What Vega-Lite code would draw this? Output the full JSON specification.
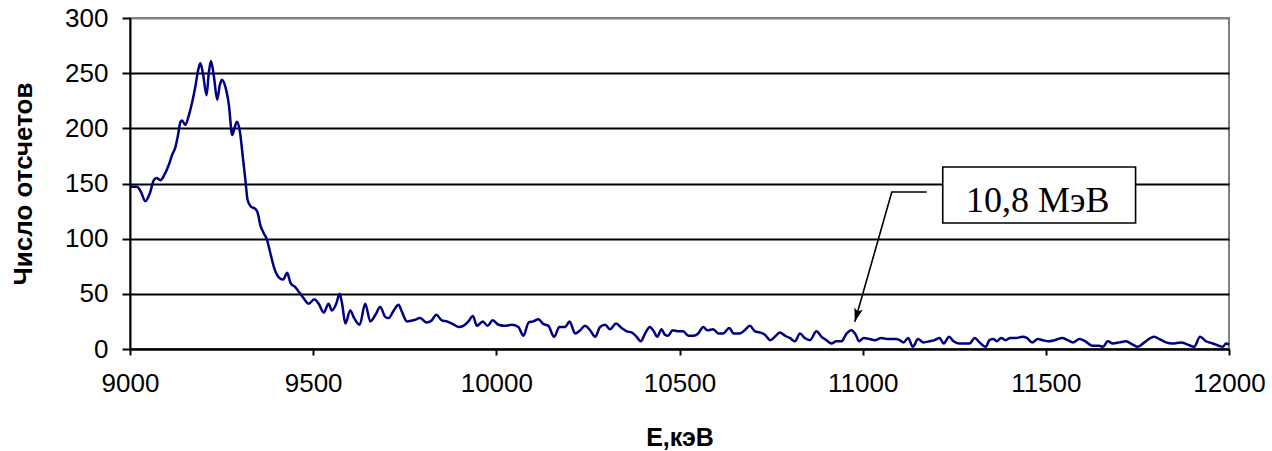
{
  "$schema": "https://vega.github.io/schema/vega-lite/v6.json",
  "autosize": "none",
  "width": 1099,
  "height": 331,
  "padding": {"left": 130, "top": 18, "right": 43, "bottom": 102},
  "background": "white",
  "config": {
    "view": {"stroke": "#808080", "strokeWidth": 2},
    "font": "Liberation Sans"
  },
  "datasets": {
    "spec": [
      {"E": 9000, "N": 147}, {"E": 9019, "N": 147}, {"E": 9029, "N": 143}, {"E": 9042, "N": 134},
      {"E": 9054, "N": 141}, {"E": 9065, "N": 153}, {"E": 9072, "N": 155}, {"E": 9083, "N": 153},
      {"E": 9094, "N": 158}, {"E": 9106, "N": 167}, {"E": 9115, "N": 176}, {"E": 9124, "N": 183},
      {"E": 9130, "N": 192}, {"E": 9138, "N": 206}, {"E": 9142, "N": 207}, {"E": 9151, "N": 203},
      {"E": 9160, "N": 211}, {"E": 9170, "N": 224}, {"E": 9179, "N": 239}, {"E": 9185, "N": 251},
      {"E": 9192, "N": 259}, {"E": 9199, "N": 250}, {"E": 9209, "N": 230}, {"E": 9215, "N": 250},
      {"E": 9221, "N": 261}, {"E": 9229, "N": 247}, {"E": 9238, "N": 226}, {"E": 9245, "N": 239},
      {"E": 9251, "N": 244}, {"E": 9260, "N": 238}, {"E": 9270, "N": 221}, {"E": 9279, "N": 194},
      {"E": 9285, "N": 200}, {"E": 9292, "N": 206}, {"E": 9300, "N": 197}, {"E": 9308, "N": 174},
      {"E": 9315, "N": 153}, {"E": 9321, "N": 135}, {"E": 9330, "N": 129}, {"E": 9342, "N": 127},
      {"E": 9348, "N": 124}, {"E": 9356, "N": 112}, {"E": 9365, "N": 105}, {"E": 9374, "N": 99},
      {"E": 9383, "N": 87}, {"E": 9394, "N": 73}, {"E": 9406, "N": 65}, {"E": 9418, "N": 63},
      {"E": 9429, "N": 69}, {"E": 9438, "N": 60}, {"E": 9451, "N": 56}, {"E": 9463, "N": 51},
      {"E": 9474, "N": 46}, {"E": 9488, "N": 41}, {"E": 9503, "N": 45}, {"E": 9515, "N": 41},
      {"E": 9529, "N": 33}, {"E": 9542, "N": 41}, {"E": 9551, "N": 35}, {"E": 9563, "N": 41},
      {"E": 9572, "N": 50}, {"E": 9579, "N": 41}, {"E": 9588, "N": 23}, {"E": 9601, "N": 35},
      {"E": 9612, "N": 28}, {"E": 9627, "N": 22}, {"E": 9642, "N": 41}, {"E": 9656, "N": 25},
      {"E": 9670, "N": 31}, {"E": 9683, "N": 38}, {"E": 9697, "N": 29}, {"E": 9706, "N": 28},
      {"E": 9720, "N": 35}, {"E": 9733, "N": 40}, {"E": 9742, "N": 34}, {"E": 9756, "N": 25},
      {"E": 9774, "N": 26}, {"E": 9792, "N": 28}, {"E": 9810, "N": 24}, {"E": 9824, "N": 26},
      {"E": 9836, "N": 31}, {"E": 9851, "N": 26}, {"E": 9865, "N": 25}, {"E": 9879, "N": 23},
      {"E": 9897, "N": 20}, {"E": 9910, "N": 21}, {"E": 9924, "N": 25}, {"E": 9936, "N": 30},
      {"E": 9947, "N": 21}, {"E": 9963, "N": 25}, {"E": 9976, "N": 21}, {"E": 9990, "N": 26},
      {"E": 10006, "N": 22}, {"E": 10024, "N": 21}, {"E": 10042, "N": 22}, {"E": 10060, "N": 20},
      {"E": 10074, "N": 12}, {"E": 10088, "N": 24}, {"E": 10101, "N": 25}, {"E": 10115, "N": 27},
      {"E": 10127, "N": 23}, {"E": 10142, "N": 21}, {"E": 10158, "N": 11}, {"E": 10172, "N": 20},
      {"E": 10188, "N": 20}, {"E": 10200, "N": 25}, {"E": 10215, "N": 14}, {"E": 10229, "N": 17},
      {"E": 10242, "N": 21}, {"E": 10256, "N": 17}, {"E": 10270, "N": 11}, {"E": 10283, "N": 20},
      {"E": 10297, "N": 22}, {"E": 10310, "N": 18}, {"E": 10327, "N": 23}, {"E": 10342, "N": 19},
      {"E": 10356, "N": 16}, {"E": 10369, "N": 15}, {"E": 10383, "N": 11}, {"E": 10394, "N": 7},
      {"E": 10406, "N": 14}, {"E": 10419, "N": 20}, {"E": 10430, "N": 16}, {"E": 10439, "N": 11},
      {"E": 10451, "N": 18}, {"E": 10460, "N": 13}, {"E": 10469, "N": 12}, {"E": 10481, "N": 17},
      {"E": 10497, "N": 16}, {"E": 10510, "N": 16}, {"E": 10524, "N": 12}, {"E": 10538, "N": 12},
      {"E": 10551, "N": 14}, {"E": 10565, "N": 20}, {"E": 10576, "N": 17}, {"E": 10592, "N": 18},
      {"E": 10606, "N": 14}, {"E": 10619, "N": 14}, {"E": 10636, "N": 19}, {"E": 10648, "N": 14},
      {"E": 10665, "N": 14}, {"E": 10678, "N": 17}, {"E": 10692, "N": 21}, {"E": 10706, "N": 16},
      {"E": 10719, "N": 15}, {"E": 10733, "N": 13}, {"E": 10748, "N": 8}, {"E": 10760, "N": 11},
      {"E": 10774, "N": 15}, {"E": 10788, "N": 12}, {"E": 10801, "N": 10}, {"E": 10815, "N": 7},
      {"E": 10829, "N": 14}, {"E": 10842, "N": 10}, {"E": 10856, "N": 8}, {"E": 10874, "N": 16},
      {"E": 10888, "N": 11}, {"E": 10901, "N": 8}, {"E": 10915, "N": 5}, {"E": 10928, "N": 7},
      {"E": 10942, "N": 7}, {"E": 10956, "N": 14}, {"E": 10969, "N": 17}, {"E": 10981, "N": 13},
      {"E": 10990, "N": 7}, {"E": 11003, "N": 10}, {"E": 11019, "N": 9}, {"E": 11033, "N": 8},
      {"E": 11051, "N": 10}, {"E": 11069, "N": 9}, {"E": 11092, "N": 9}, {"E": 11101, "N": 8},
      {"E": 11112, "N": 6}, {"E": 11124, "N": 10}, {"E": 11137, "N": 2}, {"E": 11151, "N": 9},
      {"E": 11166, "N": 6}, {"E": 11183, "N": 7}, {"E": 11196, "N": 8}, {"E": 11210, "N": 10},
      {"E": 11221, "N": 5}, {"E": 11236, "N": 11}, {"E": 11248, "N": 7}, {"E": 11263, "N": 5},
      {"E": 11278, "N": 5}, {"E": 11292, "N": 5}, {"E": 11306, "N": 10}, {"E": 11319, "N": 6},
      {"E": 11336, "N": 2}, {"E": 11346, "N": 8}, {"E": 11357, "N": 9}, {"E": 11366, "N": 7},
      {"E": 11378, "N": 10}, {"E": 11390, "N": 8}, {"E": 11403, "N": 10}, {"E": 11419, "N": 10},
      {"E": 11436, "N": 11}, {"E": 11448, "N": 10}, {"E": 11463, "N": 6}, {"E": 11478, "N": 9},
      {"E": 11492, "N": 8}, {"E": 11506, "N": 7}, {"E": 11524, "N": 8}, {"E": 11545, "N": 10},
      {"E": 11560, "N": 8}, {"E": 11574, "N": 6}, {"E": 11592, "N": 9}, {"E": 11608, "N": 7},
      {"E": 11626, "N": 3}, {"E": 11645, "N": 3}, {"E": 11656, "N": 2}, {"E": 11669, "N": 7},
      {"E": 11683, "N": 5}, {"E": 11701, "N": 6}, {"E": 11719, "N": 7}, {"E": 11737, "N": 4},
      {"E": 11751, "N": 2}, {"E": 11769, "N": 6}, {"E": 11796, "N": 11}, {"E": 11810, "N": 9},
      {"E": 11828, "N": 6}, {"E": 11846, "N": 5}, {"E": 11869, "N": 6}, {"E": 11887, "N": 4},
      {"E": 11905, "N": 2}, {"E": 11921, "N": 11}, {"E": 11937, "N": 7}, {"E": 11956, "N": 5},
      {"E": 11972, "N": 3}, {"E": 11983, "N": 2}, {"E": 11992, "N": 5}, {"E": 12000, "N": 4}
    ],
    "arrow": [
      {"E": 11175, "N": 142.3},
      {"E": 11079.5, "N": 142.3},
      {"E": 10978.6, "N": 24.7}
    ],
    "tip": [{"E": 10978.6, "N": 24.7, "ang": 16}],
    "box": [{"E": 11218.6, "E2": 11745, "N": 165, "N2": 114.2}],
    "label": [{"E": 11478, "N": 134, "text": "10,8 МэВ"}]
  },
  "encoding": {
    "x": {
      "field": "E",
      "type": "quantitative",
      "scale": {"domain": [9000, 12000], "nice": false, "zero": false},
      "axis": {
        "title": "E,кэВ",
        "values": [9000, 9500, 10000, 10500, 11000, 11500, 12000],
        "format": "d",
        "grid": false,
        "domainColor": "black",
        "domainWidth": 2,
        "tickColor": "black",
        "tickWidth": 2,
        "tickSize": 6,
        "labelFont": "Liberation Sans",
        "labelFontSize": 26,
        "labelColor": "black",
        "labelPadding": 15,
        "labelFlush": false,
        "titleFont": "Liberation Sans",
        "titleFontSize": 25,
        "titleFontWeight": "bold",
        "titleColor": "black",
        "titleBaseline": "middle",
        "titleY": 88
      }
    },
    "y": {
      "field": "N",
      "type": "quantitative",
      "scale": {"domain": [0, 300], "nice": false},
      "axis": {
        "title": "Число отсчетов",
        "values": [0, 50, 100, 150, 200, 250, 300],
        "grid": true,
        "gridColor": {"condition": {"test": "datum.value == 300", "value": "#808080"}, "value": "black"},
        "gridWidth": 2,
        "domainColor": "black",
        "domainWidth": 2,
        "tickColor": "black",
        "tickWidth": 2,
        "tickSize": 8,
        "labelFont": "Liberation Sans",
        "labelFontSize": 26,
        "labelColor": "black",
        "labelPadding": 14,
        "labelFlush": false,
        "titleFont": "Liberation Sans",
        "titleFontSize": 26,
        "titleFontWeight": "bold",
        "titleColor": "black",
        "titleAngle": 270,
        "titleBaseline": "middle",
        "titleAlign": "center",
        "titleX": -107,
        "titleY": 165.5
      }
    }
  },
  "layer": [
    {
      "data": {"name": "spec"},
      "mark": {"type": "line", "color": "#000080", "strokeWidth": 2.5, "interpolate": "monotone"}
    },
    {
      "data": {"name": "arrow"},
      "mark": {"type": "line", "color": "black", "strokeWidth": 1.6},
      "encoding": {}
    },
    {
      "data": {"name": "tip"},
      "mark": {"type": "point", "shape": "M0,0L-0.45,-1.4L0,-1.1L0.45,-1.4Z", "filled": true, "color": "black", "size": 380, "opacity": 1},
      "encoding": {"angle": {"field": "ang", "type": "quantitative", "scale": null}}
    },
    {
      "data": {"name": "box"},
      "mark": {"type": "rect", "fill": "white", "stroke": "black", "strokeWidth": 1.6},
      "encoding": {
        "x2": {"field": "E2"},
        "y2": {"field": "N2"}
      }
    },
    {
      "data": {"name": "label"},
      "mark": {"type": "text", "font": "Liberation Serif", "fontSize": 36, "color": "black", "baseline": "middle", "align": "center"},
      "encoding": {"text": {"field": "text"}}
    }
  ]
}
